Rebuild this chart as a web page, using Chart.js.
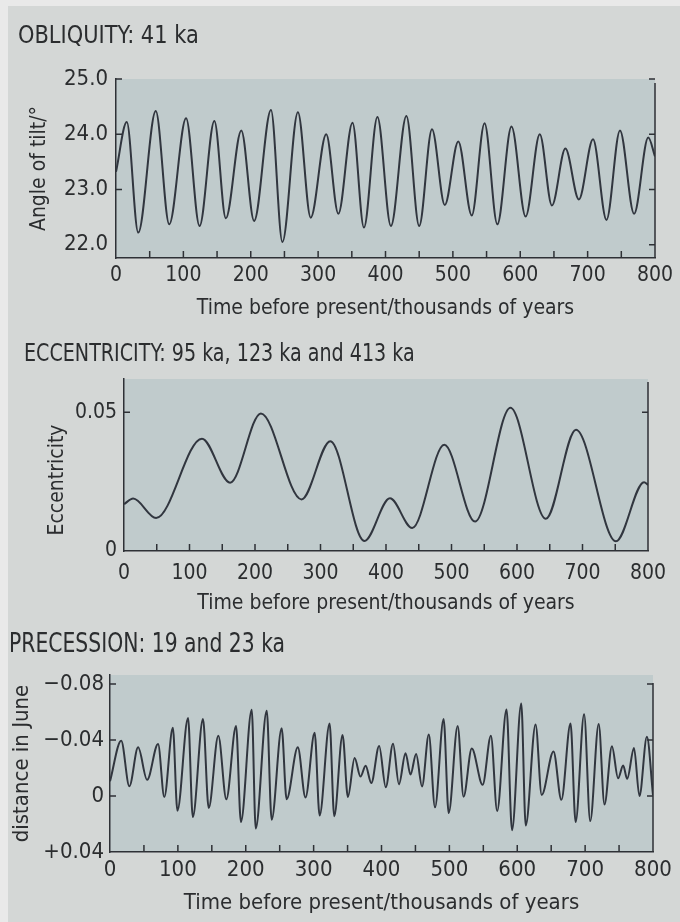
<!DOCTYPE html>
<html lang="en">
<head>
<meta charset="UTF-8">
<title>Orbital cycles</title>
<style>
  * { margin: 0; padding: 0; box-sizing: border-box; }
  html, body { width: 680px; height: 922px; overflow: hidden; }
  body {
    background: #e9e9e9;
    font-family: 'Liberation Sans Narrow', 'DejaVu Sans Condensed', 'Liberation Sans', sans-serif;
    color: #2b2d2f;
    position: relative;
  }
  .page { position: absolute; left: 8px; top: 6px; right: 0; bottom: 0; background: #d4d7d6; }
  canvas { position: absolute; left: 0; }
  .ttl { position: absolute; white-space: nowrap; line-height: 1; transform-origin: 0 0; }
</style>
</head>
<body>
  <div class="page"></div>

  <canvas id="c1" width="680" height="330" style="top:0"></canvas>
  <canvas id="c2" width="680" height="300" style="top:320px"></canvas>
  <canvas id="c3" width="680" height="305" style="top:617px"></canvas>

  <div class="ttl" style="left:18px; top:23px; font-size:24px; transform:scaleX(0.97)">OBLIQUITY: 41 ka</div>
  <div class="ttl" style="left:24px; top:340px; font-size:25px; transform:scaleX(0.85)">ECCENTRICITY: 95 ka, 123 ka and 413 ka</div>
  <div class="ttl" style="left:9px; top:630px; font-size:26px; transform:scaleX(0.87)">PRECESSION: 19 and 23 ka</div>

<script src="https://cdn.jsdelivr.net/npm/chart.js@4.4.1/dist/chart.umd.min.js"></script>
<script>
// time axis (thousands of years before present)
const xTicks = [0, 100, 200, 300, 400, 500, 600, 700, 800];
const xMinor = [50, 150, 250, 350, 450, 550, 650, 750];

// obliquity: turning points of the curve
const obliqKa = [0, 16, 33, 59, 79, 104, 124, 146, 163, 186, 205, 230, 247, 270, 289, 312, 330, 351, 368, 388,
  408, 431, 450, 469, 488, 508, 528, 547, 566, 587, 608, 629, 647, 667, 687, 708, 728, 748, 769, 790, 800];
const obliqDeg = [23.32, 24.22, 22.22, 24.42, 22.37, 24.29, 22.34, 24.24, 22.48, 24.07, 22.43, 24.44, 22.05, 24.40,
  22.49, 24.00, 22.56, 24.21, 22.31, 24.31, 22.34, 24.33, 22.34, 24.09, 22.72, 23.87, 22.53, 24.20, 22.37, 24.14,
  22.51, 24.00, 22.71, 23.74, 22.82, 23.91, 22.45, 24.07, 22.56, 23.94, 23.60];
const obliqTicks = [22, 23, 24, 25];
const obliqLabels = ['22.0', '23.0', '24.0', '25.0'];

// eccentricity
const eccKa = [0, 14, 49, 119, 162, 209, 271, 315, 367, 406, 440, 489, 536, 590, 644, 690, 751, 794, 800];
const eccVal = [0.0169, 0.0189, 0.0119, 0.0405, 0.0246, 0.0496, 0.0186, 0.0396, 0.0036, 0.0190, 0.0083,
  0.0383, 0.0106, 0.0516, 0.0116, 0.0437, 0.0035, 0.0248, 0.0238];
const eccTicks = [0, 0.05];
const eccLabels = ['0', '0.05'];

// precession (distance in June, axis reversed)
const precKa = [0, 16.5, 28.5, 41.4, 54.7, 70.8, 80, 92.6, 99.3, 115, 122, 137, 145.4, 159.6, 171.4, 185.7, 192.9,
  208.8, 214.7, 230.9, 238.2, 252.9, 260.2, 276.7, 288, 301.5, 308.8, 323.5, 330.4, 342.6, 350.5, 360.4, 369, 376.6,
  385, 396.5, 406.3, 417, 425.7, 435.4, 442.7, 451, 459.7, 469.7, 478.8, 491.5, 499, 512.2, 520.9, 533, 549, 561.2,
  570.4, 584.2, 592.3, 605.9, 612.5, 627, 636, 653.4, 665, 678.5, 686, 698.5, 707.5, 720, 728.5, 739.5, 748.5, 756,
  762, 772, 780, 791, 800];
const precVal = [-0.0105, -0.0395, -0.007, -0.0348, -0.0116, -0.0372, 0.0007, -0.0488, 0.0105, -0.0557, 0.015,
  -0.055, 0.0086, -0.043, 0.0023, -0.05, 0.0185, -0.0616, 0.0232, -0.0609, 0.017, -0.0484, 0.0023, -0.0348, 0.0011,
  -0.0453, 0.0139, -0.0518, 0.0144, -0.0437, 0.0007, -0.0272, -0.0139, -0.0216, -0.0093, -0.0358, -0.0063, -0.0374,
  -0.0084, -0.0306, -0.0153, -0.0301, -0.0069, -0.0439, 0.0081, -0.055, 0.0122, -0.05, 0.0005, -0.034, -0.008,
  -0.043, 0.0107, -0.0618, 0.0244, -0.0662, 0.0211, -0.0512, -0.0008, -0.0319, 0.0027, -0.0518, 0.0186, -0.0585,
  0.0179, -0.0515, 0.0061, -0.0356, -0.0127, -0.0218, -0.0123, -0.0343, 0.0, -0.0423, -0.0007];
const precTicks = [-0.08, -0.04, 0, 0.04];
const precLabels = ['\u22120.08', '\u22120.04', '0', '+0.04'];

const FONT = "'Liberation Sans Narrow', 'DejaVu Sans Condensed', 'Liberation Sans', sans-serif";
const TXT = '#2b2d2f';
const AXIS = '#2e3136';
const LINE = '#31363f';
const PLOT_BG = '#c0cbcc';

// plot background, right-hand axis and inward tick marks
const framePlugin = {
  id: 'frame',
  beforeDraw(chart) {
    const { ctx, chartArea: a } = chart;
    ctx.save();
    ctx.fillStyle = PLOT_BG;
    ctx.fillRect(a.left, a.top, a.right - a.left, a.bottom - a.top);
    ctx.restore();
  },
  afterDraw(chart, args, opts) {
    const { ctx, chartArea: a, scales: { x, y } } = chart;
    ctx.save();
    ctx.strokeStyle = AXIS;
    ctx.lineWidth = 1.5;
    ctx.beginPath();
    ctx.moveTo(a.right, a.top + opts.rightGap);
    ctx.lineTo(a.right, a.bottom);
    opts.leftTicks.forEach(v => {
      const p = y.getPixelForValue(v);
      ctx.moveTo(a.left, p); ctx.lineTo(a.left + 6, p);
    });
    opts.rightTicks.forEach(v => {
      const p = y.getPixelForValue(v);
      ctx.moveTo(a.right, p); ctx.lineTo(a.right - 6, p);
    });
    xMinor.concat(xTicks.slice(1, -1)).forEach(v => {
      const p = x.getPixelForValue(v);
      ctx.moveTo(p, a.bottom); ctx.lineTo(p, a.bottom - 7);
    });
    ctx.stroke();
    ctx.restore();
  }
};

function panel(id, o) {
  return new Chart(document.getElementById(id), {
    type: 'line',
    data: {
      datasets: [{
        data: o.ka.map((k, i) => ({ x: k, y: o.val[i] })),
        borderColor: LINE,
        borderWidth: 2,
        pointRadius: 0,
        cubicInterpolationMode: 'monotone',
        fill: false
      }]
    },
    options: {
      responsive: false,
      animation: false,
      events: [],
      layout: { padding: o.pad },
      plugins: {
        legend: { display: false },
        tooltip: { enabled: false },
        frame: { leftTicks: o.leftTicks, rightTicks: o.rightTicks, rightGap: o.rightGap }
      },
      scales: {
        x: {
          type: 'linear', min: 0, max: 800,
          afterBuildTicks: s => { s.ticks = xTicks.map(v => ({ value: v })); },
          afterFit: s => { s.height = o.xh; },
          grid: { display: false, drawTicks: false, tickLength: 0 },
          border: { display: true, color: AXIS, width: 1.5 },
          ticks: { color: TXT, font: { family: FONT, size: o.fs }, padding: o.xpad, maxRotation: 0, autoSkip: false },
          title: { display: true, text: 'Time before present/thousands of years', color: TXT,
                   font: { family: FONT, size: o.fs }, padding: 0 }
        },
        y: {
          type: 'linear', min: o.min, max: o.max, reverse: !!o.reverse,
          afterBuildTicks: s => { s.ticks = o.yTicks.map(v => ({ value: v })); },
          afterFit: s => { s.width = o.yw; },
          grid: { display: false, drawTicks: false, tickLength: 0 },
          border: { display: true, color: AXIS, width: 1.5 },
          ticks: { color: TXT, font: { family: FONT, size: o.yfs }, padding: o.ypad,
                   callback: (v, i) => o.yLabels[i] },
          title: { display: true, text: o.yTitle, color: TXT, font: { family: FONT, size: o.fs }, padding: 0 }
        }
      }
    },
    plugins: [framePlugin]
  });
}

panel('c1', {
  ka: obliqKa, val: obliqDeg, min: 21.76, max: 25.0,
  yTicks: obliqTicks, yLabels: obliqLabels, yTitle: 'Angle of tilt/\u00b0',
  leftTicks: [23, 24, 25], rightTicks: [22, 23, 24, 25], rightGap: 4,
  pad: { left: 27, right: 25, top: 79, bottom: 9 }, yw: 89, xh: 63, fs: 21, yfs: 22, xpad: 5, ypad: 8
});

panel('c2', {
  ka: eccKa, val: eccVal, min: 0, max: 0.062,
  yTicks: eccTicks, yLabels: eccLabels, yTitle: 'Eccentricity\u00a0\u00a0\u00a0\u00a0\u00a0',
  leftTicks: [0.05], rightTicks: [0.05], rightGap: 3,
  pad: { left: 45, right: 32, top: 59, bottom: 4 }, yw: 79, xh: 65, fs: 21, yfs: 21, xpad: 10, ypad: 7
});

panel('c3', {
  ka: precKa, val: precVal, min: -0.0865, max: 0.04, reverse: true,
  yTicks: precTicks, yLabels: precLabels, yTitle: 'distance in June',
  leftTicks: [-0.08, -0.04, 0], rightTicks: [-0.08, -0.04, 0], rightGap: 8,
  pad: { left: 9, right: 27, top: 58, bottom: 6 }, yw: 101, xh: 64, fs: 22, yfs: 22, xpad: 5, ypad: 6
});
</script>
</body>
</html>
